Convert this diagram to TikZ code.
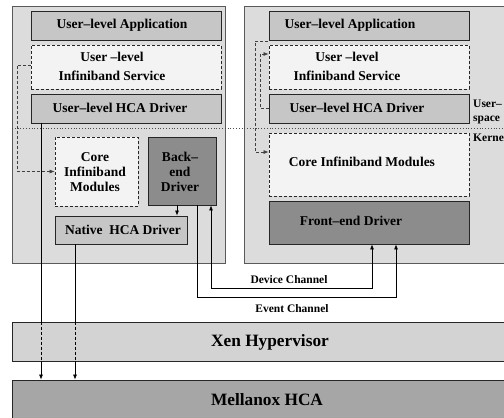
\documentclass[tikz,border=0pt]{standalone}
\usepackage{fontspec}
\setmainfont{Liberation Serif}
\usetikzlibrary{arrows.meta}
\definecolor{dombg}{HTML}{DCDCDC}
\definecolor{domln}{HTML}{5A5A5A}
\definecolor{midg}{HTML}{C6C6C6}
\definecolor{lite}{HTML}{F3F3F3}
\definecolor{dark}{HTML}{8C8C8C}
\definecolor{xeng}{HTML}{D3D3D3}
\definecolor{melg}{HTML}{A6A6A6}
\tikzset{
  dom/.style={draw=domln, fill=dombg, line width=0.8pt, inner sep=0pt},
  bx/.style={draw=black!85, line width=0.8pt, inner sep=0pt},
  midbox/.style={bx, fill=midg},
  litebox/.style={bx, fill=lite, dashed, dash pattern=on 3pt off 2pt},
  darkbox/.style={bx, fill=dark},
  txt/.style={font=\fontsize{13.5}{15}\selectfont\bfseries, inner sep=0pt, align=center},
  smalltxt/.style={font=\fontsize{11.5}{14}\selectfont\bfseries, inner sep=0pt, align=left},
  bigtxt/.style={font=\fontsize{17.3}{20}\selectfont\bfseries, inner sep=0pt},
  ln/.style={line width=0.7pt, black},
  tip/.style={-{Latex[length=5pt,width=4pt]}},
  dsh/.style={ln, dash pattern=on 3pt off 2pt, black!75},
}
\begin{document}
\begin{tikzpicture}[x=1pt,y=1pt]
\useasboundingbox (0,0) rectangle (504,-418);
\clip (0,0) rectangle (504,-418);
\fill[white] (0,0) rectangle (504,-418);
% domains
\node[dom, minimum width=213pt, minimum height=257pt] (ldom) at (118.5,-134.5) {};
\node[dom, minimum width=286pt, minimum height=257pt] (rdom) at (387,-134.5) {};
% hypervisor and HCA
\node[bx, fill=xeng, minimum width=518pt, minimum height=39pt] (xen) at (271,-341.5) {};
\node[bx, fill=melg, minimum width=518pt, minimum height=50pt] (mel) at (271,-405) {};
\node[bigtxt] (xent) at (270,-342) {Xen Hypervisor};
\node[bigtxt] (melt) at (267,-400) {Mellanox HCA};
% left boxes
\node[midbox, minimum width=190pt, minimum height=29pt] (lapp) at (126,-25.5) {};
\node[litebox, minimum width=190pt, minimum height=44pt] (lsvc) at (126,-67) {};
\node[midbox, minimum width=190pt, minimum height=29pt] (lhca) at (126,-108.5) {};
\node[litebox, minimum width=83pt, minimum height=69pt] (lcore) at (96.5,-171.5) {};
\node[darkbox, minimum width=68pt, minimum height=68pt] (back) at (182,-171) {};
\node[midbox, minimum width=132pt, minimum height=28pt] (native) at (121,-230) {};
\node[txt] (lappt) at (122,-25) {User--level Application};
\node[txt, font=\fontsize{13.5}{19}\selectfont\bfseries] (lsvct) at (112,-66.5) {User --level\\Infiniband Service};
\node[txt] (lhcat) at (120,-108) {User--level HCA Driver};
\node[txt] (lcoret) at (95,-172) {Core\\Infiniband\\Modules};
\node[txt] (backt) at (180,-172) {Back--\\end\\Driver};
\node[txt] (nativet) at (123,-230) {Native\ \ HCA Driver};
% right boxes
\node[midbox, minimum width=200pt, minimum height=29pt] (rapp) at (369,-25.5) {};
\node[litebox, minimum width=200pt, minimum height=44pt] (rsvc) at (369,-67) {};
\node[midbox, minimum width=200pt, minimum height=29pt] (rhca) at (369,-108.5) {};
\node[litebox, minimum width=200pt, minimum height=63pt] (rcore) at (369,-164.5) {};
\node[darkbox, minimum width=200pt, minimum height=43pt] (front) at (369,-222.5) {};
\node[txt] (rappt) at (350,-25) {User--level Application};
\node[txt, font=\fontsize{13.5}{19}\selectfont\bfseries] (rsvct) at (347,-66.5) {User --level\\Infiniband Service};
\node[txt] (rhcat) at (357,-108) {User--level HCA Driver};
\node[txt] (rcoret) at (362,-162) {Core Infiniband Modules};
\node[txt] (frontt) at (351,-221) {Front--end Driver};
% user / kernel
\coordinate (dl) at (12,-128);
\coordinate (dr) at (504,-128);
\draw[line width=0.8pt, black!70, dash pattern=on 0.8pt off 2pt] (dl) -- (dr);
\node[smalltxt, anchor=west] (us) at (473,-112) {User--\\space};
\node[smalltxt, anchor=west] (kn) at (473,-138) {Kernel};
% channels labels
\node[smalltxt] (devt) at (289,-280) {Device Channel};
\node[smalltxt] (evt) at (292,-309) {Event Channel};
% left dashed connector
\coordinate (ldA) at (17,-65);
\coordinate (ldB) at (17,-171.5);
\draw[dsh, tip] (lsvc.west |- ldA) -- (ldA) -- (ldB) -- (lcore.west |- ldB);
% right dashed connectors
\coordinate (r1) at (260,-108);
\coordinate (r2) at (260,-54);
\draw[dsh, tip] (rhca.west |- r1) -- (r1) -- (r2) -- (rsvc.west |- r2);
\coordinate (r0) at (268,-41);
\coordinate (r3) at (255,-41);
\coordinate (r4) at (255,-152);
\draw[dsh, tip] (r0) -- (r3) -- (r4) -- (rcore.west |- r4);
% HCA driver to Mellanox
\coordinate (c41) at (41,0);
\draw[ln] (lhca.south -| c41) -- (xen.north -| c41);
\draw[ln, dash pattern=on 3pt off 2pt] (xen.north -| c41) -- (xen.south -| c41);
\draw[ln, tip] (xen.south -| c41) -- (mel.north -| c41);
\coordinate (c75) at (75,0);
\draw[ln] (native.south -| c75) -- (xen.north -| c75);
\draw[ln, dash pattern=on 3pt off 2pt] (xen.north -| c75) -- (xen.south -| c75);
\draw[ln, tip] (xen.south -| c75) -- (mel.north -| c75);
% back-end to native
\coordinate (c177) at (177,0);
\draw[ln, tip] (back.south -| c177) -- (native.north -| c177);
% event channel
\coordinate (e1) at (197,-297);
\coordinate (e2) at (396,-297);
\draw[ln, tip] (back.south -| e1) -- (e1) -- (e2) -- (front.south -| e2);
% device channel
\coordinate (d1) at (211,-288);
\coordinate (d2) at (372,-288);
\draw[ln, {Latex[length=5pt,width=4pt]}-{Latex[length=5pt,width=4pt]}] (back.south -| d1) -- (d1) -- (d2) -- (front.south -| d2);
\end{tikzpicture}
\end{document}
